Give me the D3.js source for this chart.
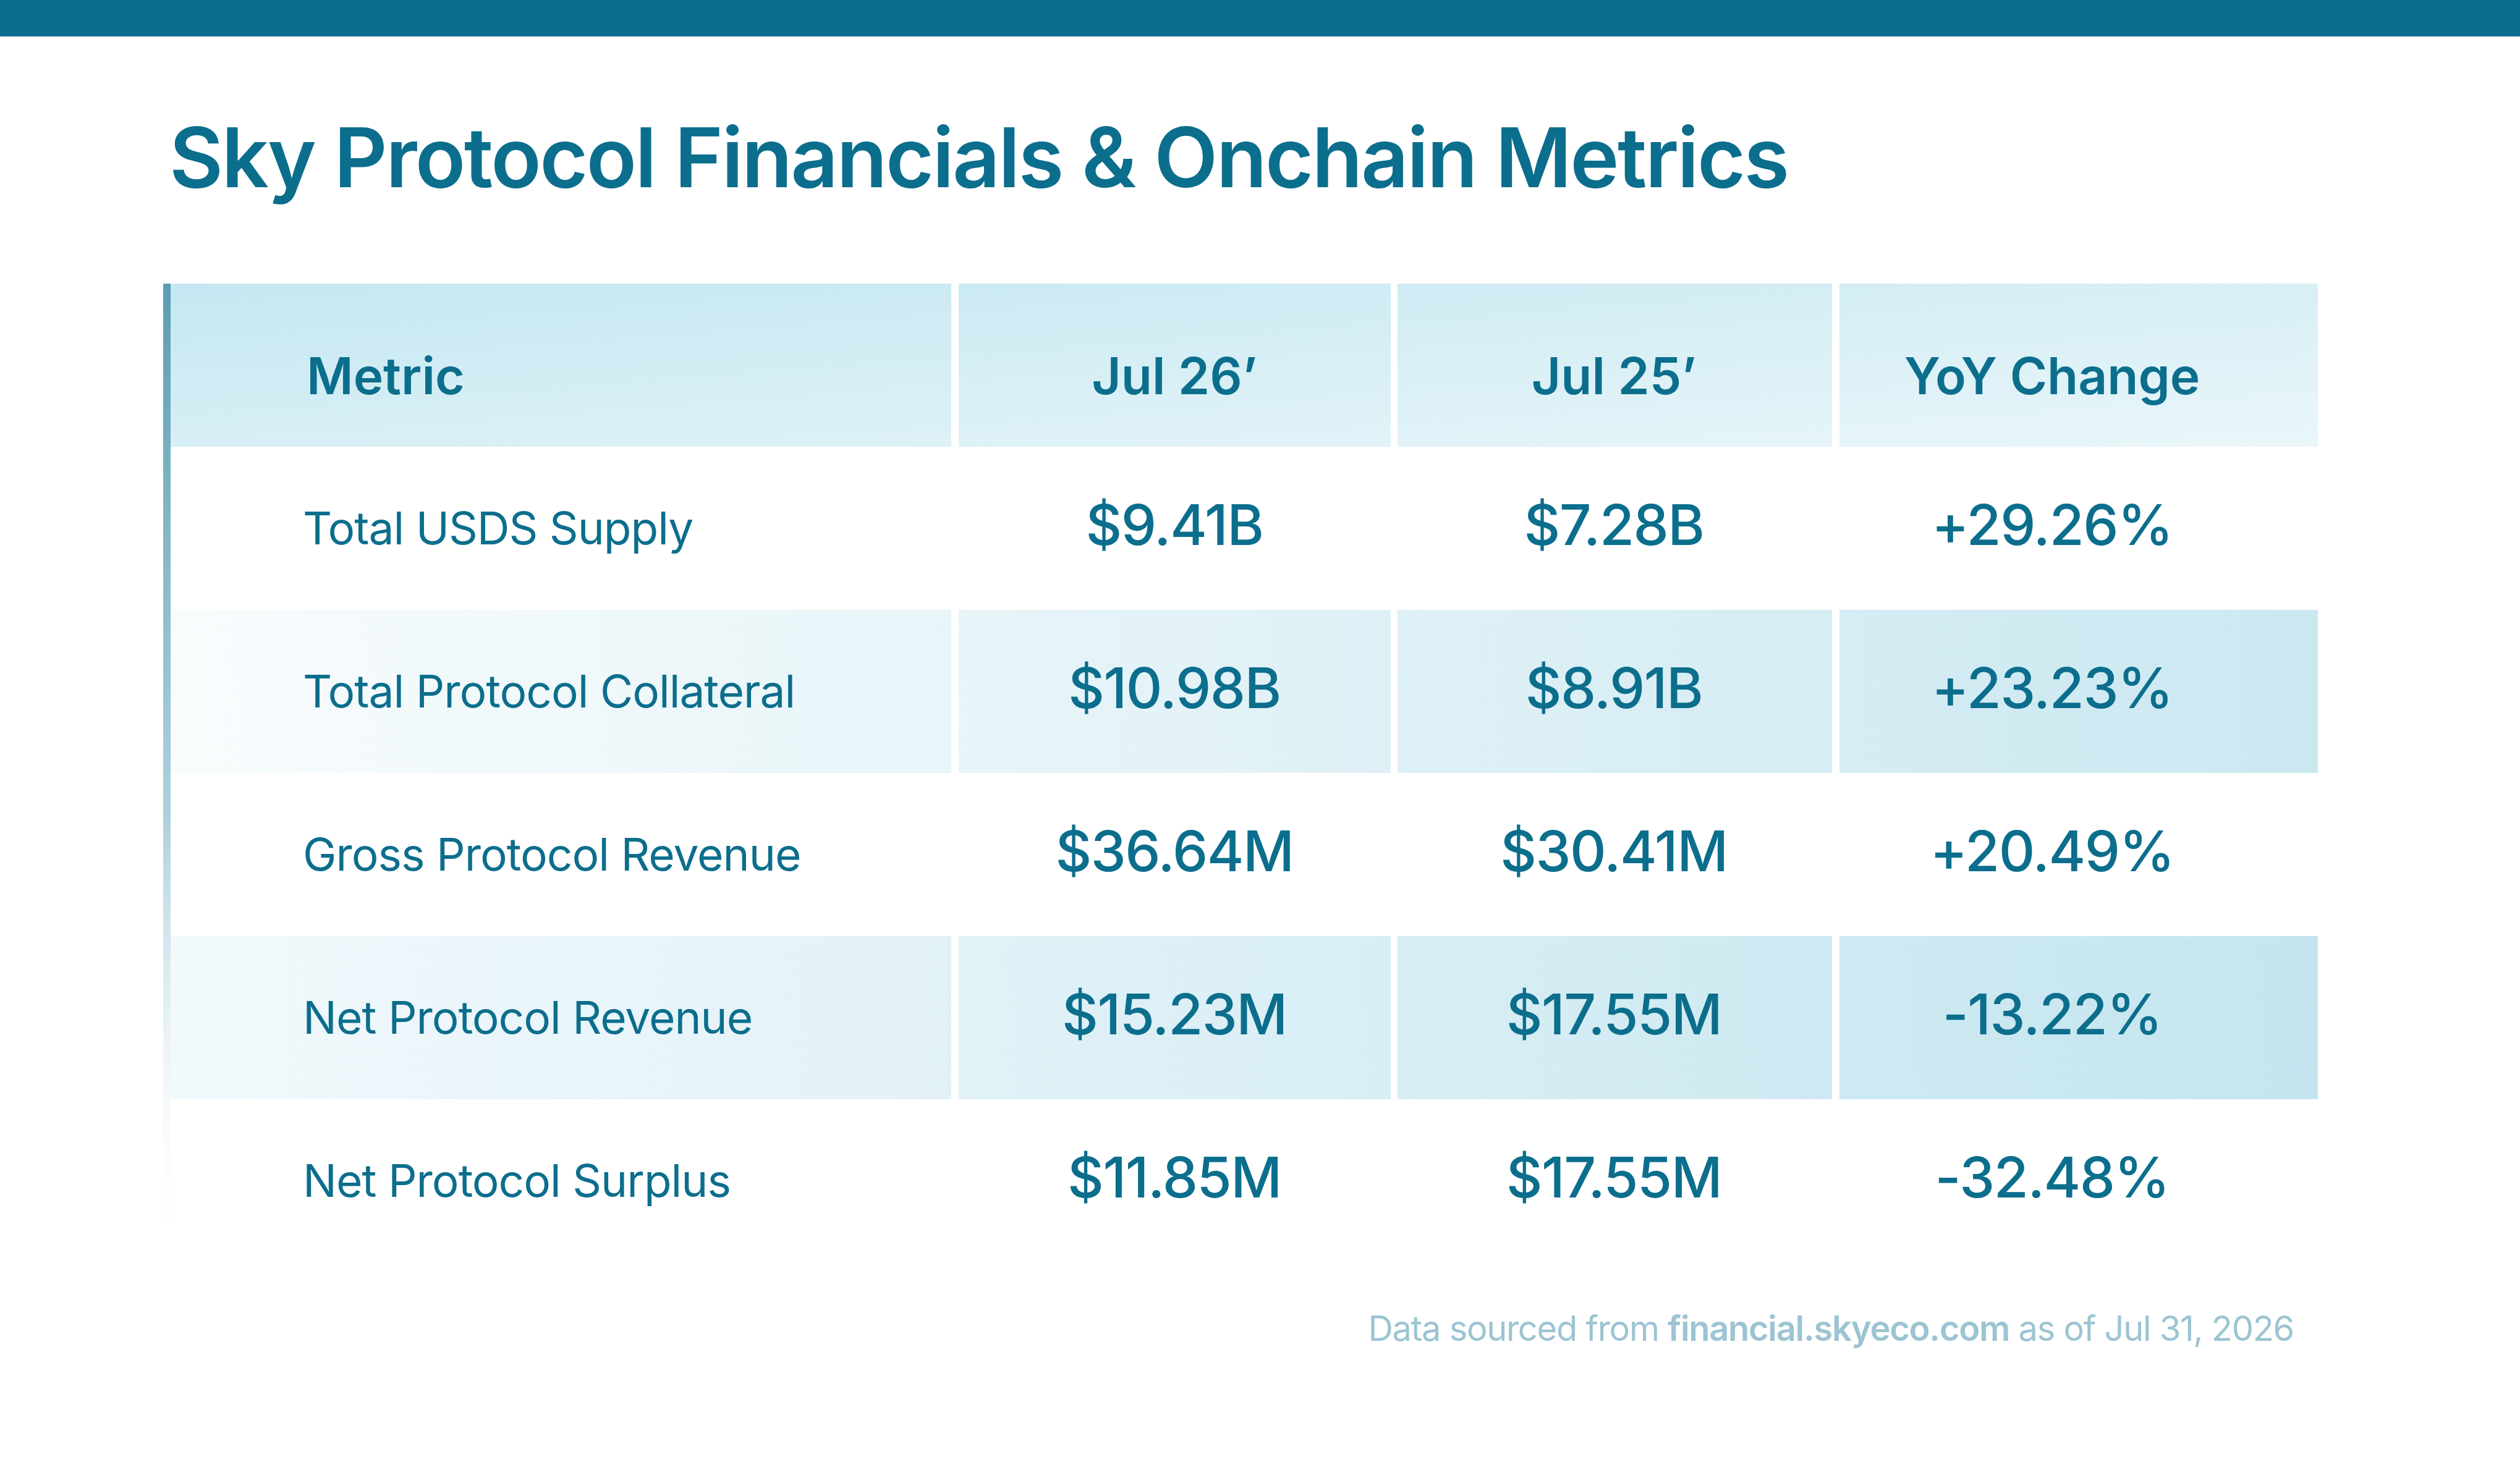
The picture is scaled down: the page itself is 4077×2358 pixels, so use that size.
<!DOCTYPE html>
<html>
<head>
<meta charset="utf-8">
<script src="https://cdn.jsdelivr.net/npm/d3@7/dist/d3.min.js"></script>
<style>
  html, body { margin: 0; padding: 0; background: #ffffff; }
  svg { display: block; }
</style>
</head>
<body>
<svg id="chart" width="4077" height="2358"></svg>
<script>
// ---------- data ----------
const title = "Sky Protocol Financials & Onchain Metrics";
const columnHeaders = ["Metric", "Jul 26\u2019", "Jul 25\u2019", "YoY Change"];
const metrics = [
  "Total USDS Supply",
  "Total Protocol Collateral",
  "Gross Protocol Revenue",
  "Net Protocol Revenue",
  "Net Protocol Surplus"
];
const jul26 = ["$9.41B", "$10.98B", "$36.64M", "$15.23M", "$11.85M"];
const jul25 = ["$7.28B", "$8.91B", "$30.41M", "$17.55M", "$17.55M"];
const yoyChange = ["+29.26%", "+23.23%", "+20.49%", "-13.22%", "-32.48%"];
const footerParts = ["Data sourced from ", "financial.skyeco.com", " as of Jul 31, 2026"];

// ---------- layout ----------
const W = 4077, H = 2358;
const teal = "#0c6e8d";
const FONT = "Inter, 'Open Sans', sans-serif";

const svg = d3.select("#chart");
const defs = svg.append("defs");

// top band
svg.append("rect").attr("x", 0).attr("y", 0).attr("width", W).attr("height", 59).attr("fill", teal);

// title
svg.append("text")
  .attr("x", 274).attr("y", 303)
  .attr("font-family", FONT).attr("font-weight", 600).attr("font-size", 134)
  .attr("letter-spacing", -2.6)
  .attr("fill", teal)
  .text(title);

// rows: header + data rows
const rowKeys = ["header"].concat(metrics);
const y = d3.scaleBand().domain(rowKeys).range([459, 2043]).paddingInner(0).paddingOuter(0);

// column cells (left, right) & text anchors
const colKeys = columnHeaders;
const colBounds = d3.scaleOrdinal().domain(colKeys).range([[276, 1539], [1551, 2250], [2261, 2964], [2976, 3750]]);
const colText = d3.scaleOrdinal().domain(colKeys).range([490, 1900, 2611, 3320]);
const colAnchor = d3.scaleOrdinal().domain(colKeys).range(["start", "middle", "middle", "middle"]);

// gradients
function lin(id, x1, y1, x2, y2, stops) {
  const g = defs.append("linearGradient").attr("id", id)
    .attr("gradientUnits", "userSpaceOnUse")
    .attr("x1", x1).attr("y1", y1).attr("x2", x2).attr("y2", y2);
  stops.forEach(s => g.append("stop").attr("offset", s[0]).attr("stop-color", s[1]).attr("stop-opacity", s[2] == null ? 1 : s[2]));
}
const hy = y("header");
lin("gHead", 276, hy, 316, hy + 520, [[0, "#c5e7f1"], [1, "#e9f6fa"]]);
const r2 = y(metrics[1]);
lin("gRow2", 276, r2 + 200, 3750, r2 + 40, [[0, "#f8fcfd"], [1, "#cbe8f1"]]);
const r4 = y(metrics[3]);
lin("gRow4", 276, r4 + 200, 3750, r4 + 40, [[0, "#f2f9fc"], [1, "#c4e5ef"]]);
lin("gBar", 0, 459, 0, 2040, [[0, "#5a9db3", 1], [0.55, "#9fc9d6", 0.85], [1, "#ffffff", 0]]);

const rowFill = d3.scaleOrdinal().domain(rowKeys)
  .range(["url(#gHead)", "#ffffff", "url(#gRow2)", "#ffffff", "url(#gRow4)", "#ffffff"]);

// cells
const cells = [];
rowKeys.forEach(r => colKeys.forEach(c => cells.push({ r, c })));
svg.append("g").selectAll("rect").data(cells).join("rect")
  .attr("x", d => colBounds(d.c)[0])
  .attr("y", d => y(d.r))
  .attr("width", d => colBounds(d.c)[1] - colBounds(d.c)[0])
  .attr("height", y.bandwidth())
  .attr("fill", d => rowFill(d.r));

// left accent bar
svg.append("rect").attr("x", 264).attr("y", 459).attr("width", 12).attr("height", 1584).attr("fill", "url(#gBar)");

// header texts
svg.append("g").selectAll("text").data(columnHeaders).join("text")
  .attr("x", (d, i) => i === 0 ? 496 : colText(d))
  .attr("y", hy + 179)
  .attr("text-anchor", d => colAnchor(d))
  .attr("font-family", FONT).attr("font-weight", 600).attr("font-size", 82)
  .attr("fill", teal)
  .text(d => d);

// body texts
const bodyCells = [];
metrics.forEach((m, i) => {
  bodyCells.push({ r: m, c: colKeys[0], t: m, kind: "label" });
  bodyCells.push({ r: m, c: colKeys[1], t: jul26[i], kind: "value" });
  bodyCells.push({ r: m, c: colKeys[2], t: jul25[i], kind: "value" });
  bodyCells.push({ r: m, c: colKeys[3], t: yoyChange[i], kind: "value" });
});
svg.append("g").selectAll("text").data(bodyCells).join("text")
  .attr("x", d => colText(d.c))
  .attr("y", d => y(d.r) + (d.kind === "label" ? 158 : 159))
  .attr("text-anchor", d => colAnchor(d.c))
  .attr("font-family", FONT)
  .attr("font-weight", d => d.kind === "label" ? 400 : 500)
  .attr("font-size", d => d.kind === "label" ? 73 : 91)
  .attr("letter-spacing", d => d.kind === "label" ? -1 : -1.5)
  .attr("fill", teal)
  .text(d => d.t);

// footer
const foot = svg.append("text")
  .attr("x", 3711).attr("y", 2170)
  .attr("text-anchor", "end")
  .attr("font-family", FONT).attr("font-size", 56)
  .attr("letter-spacing", -1.3)
  .attr("fill", "#9cc4d2");
foot.selectAll("tspan").data(footerParts).join("tspan")
  .attr("font-weight", (d, i) => i === 1 ? 600 : 400)
  .text(d => d);
</script>
</body>
</html>
